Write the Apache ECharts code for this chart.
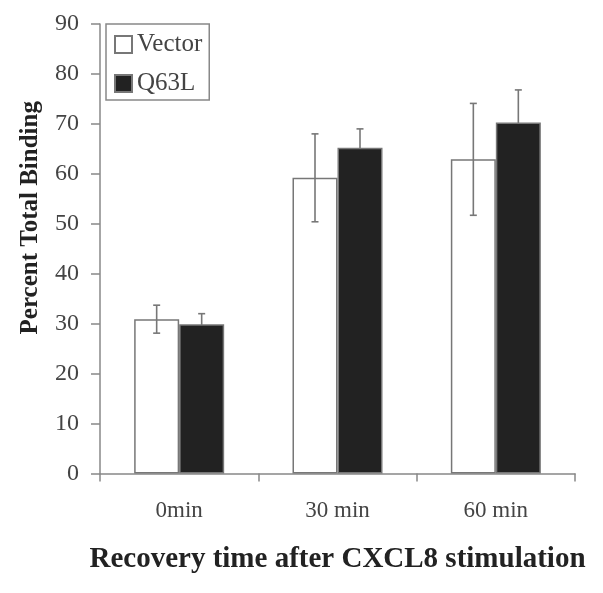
<!DOCTYPE html>
<html>
<head>
<meta charset="utf-8">
<script src="https://cdn.jsdelivr.net/npm/echarts@6/dist/echarts.min.js"></script>
<style>
html,body{margin:0;padding:0;background:#fff;}
#chart{width:603px;height:593px;}
</style>
</head>
<body>
<div id="chart"></div>
<script>
const categories = ['0min', '30 min', '60 min'];
const vectorValues = [30.9, 59.2, 62.9];
const vectorErrors = [2.8, 8.8, 11.2];
const q63lValues = [29.9, 65.2, 70.3];
const q63lErrors = [2.1, 3.8, 6.5];
const yTicks = [0, 10, 20, 30, 40, 50, 60, 70, 80, 90];

const FONT = "'Liberation Serif', 'Times New Roman', serif";
const BAR_W = 45;

function errorSeries(vals, errs, offset, z) {
  return {
    type: 'custom',
    z: z,
    silent: true,
    data: vals.map((v, i) => [i, v, errs[i]]),
    renderItem: function (params, api) {
      const i = api.value(0), v = api.value(1), e = api.value(2);
      const top = api.coord([i, v + e]);
      const bot = api.coord([i, v - e]);
      const x = top[0] + offset;
      const cap = 3.5;
      const style = { stroke: '#777', lineWidth: 1.6 };
      return {
        type: 'group',
        children: [
          { type: 'line', shape: { x1: x, y1: top[1], x2: x, y2: bot[1] }, style: style },
          { type: 'line', shape: { x1: x - cap, y1: top[1], x2: x + cap, y2: top[1] }, style: style },
          { type: 'line', shape: { x1: x - cap, y1: bot[1], x2: x + cap, y2: bot[1] }, style: style }
        ]
      };
    }
  };
}

const chart = echarts.init(document.getElementById('chart'), null, { renderer: 'canvas' });
chart.setOption({
  animation: false,
  backgroundColor: '#fff',
  textStyle: { fontFamily: FONT },
  grid: { left: 100, right: 28, top: 24, bottom: 119.5, containLabel: false },
  legend: {
    data: ['Vector', 'Q63L'],
    icon: 'rect',
    orient: 'vertical',
    left: 106,
    top: 24,
    padding: [8, 7, 4, 8],
    itemWidth: 17,
    itemHeight: 17,
    itemGap: 14,
    borderColor: '#888',
    borderWidth: 1.5,
    textStyle: { fontFamily: FONT, fontSize: 25, color: '#444' }
  },
  xAxis: {
    type: 'category',
    data: categories,
    axisLine: { lineStyle: { color: '#888', width: 1.5 } },
    axisTick: { show: true, length: 8, lineStyle: { color: '#888', width: 1.5 } },
    axisLabel: { margin: 26, fontFamily: FONT, fontSize: 23, color: '#444' },
    name: 'Recovery time after CXCL8 stimulation',
    nameLocation: 'middle',
    nameGap: 72,
    nameTextStyle: { fontFamily: FONT, fontSize: 29, fontWeight: 'bold', color: '#222' }
  },
  yAxis: {
    type: 'value',
    min: yTicks[0],
    max: yTicks[yTicks.length - 1],
    interval: yTicks[1] - yTicks[0],
    splitLine: { show: false },
    axisLine: { show: true, lineStyle: { color: '#888', width: 1.5 } },
    axisTick: { show: true, length: 9, lineStyle: { color: '#888', width: 1.5 } },
    axisLabel: { margin: 21, fontFamily: FONT, fontSize: 24, color: '#444' },
    name: 'Percent Total Binding',
    nameLocation: 'middle',
    nameRotate: 90,
    nameGap: 57,
    nameTextStyle: { fontFamily: FONT, fontSize: 25, fontWeight: 'bold', color: '#222', padding: [0, 0, 0, 62] }
  },
  series: [
    errorSeries(q63lValues, q63lErrors, BAR_W / 2, 1),
    {
      name: 'Vector',
      type: 'bar',
      z: 2,
      barWidth: BAR_W,
      barGap: '0%',
      data: vectorValues,
      itemStyle: { color: '#fff', borderColor: '#777', borderWidth: 1.5 }
    },
    {
      name: 'Q63L',
      type: 'bar',
      z: 2,
      barWidth: BAR_W,
      barGap: '0%',
      data: q63lValues,
      itemStyle: { color: '#222', borderColor: '#777', borderWidth: 1.5 }
    },
    errorSeries(vectorValues, vectorErrors, -BAR_W / 2, 3)
  ]
});
</script>
</body>
</html>
